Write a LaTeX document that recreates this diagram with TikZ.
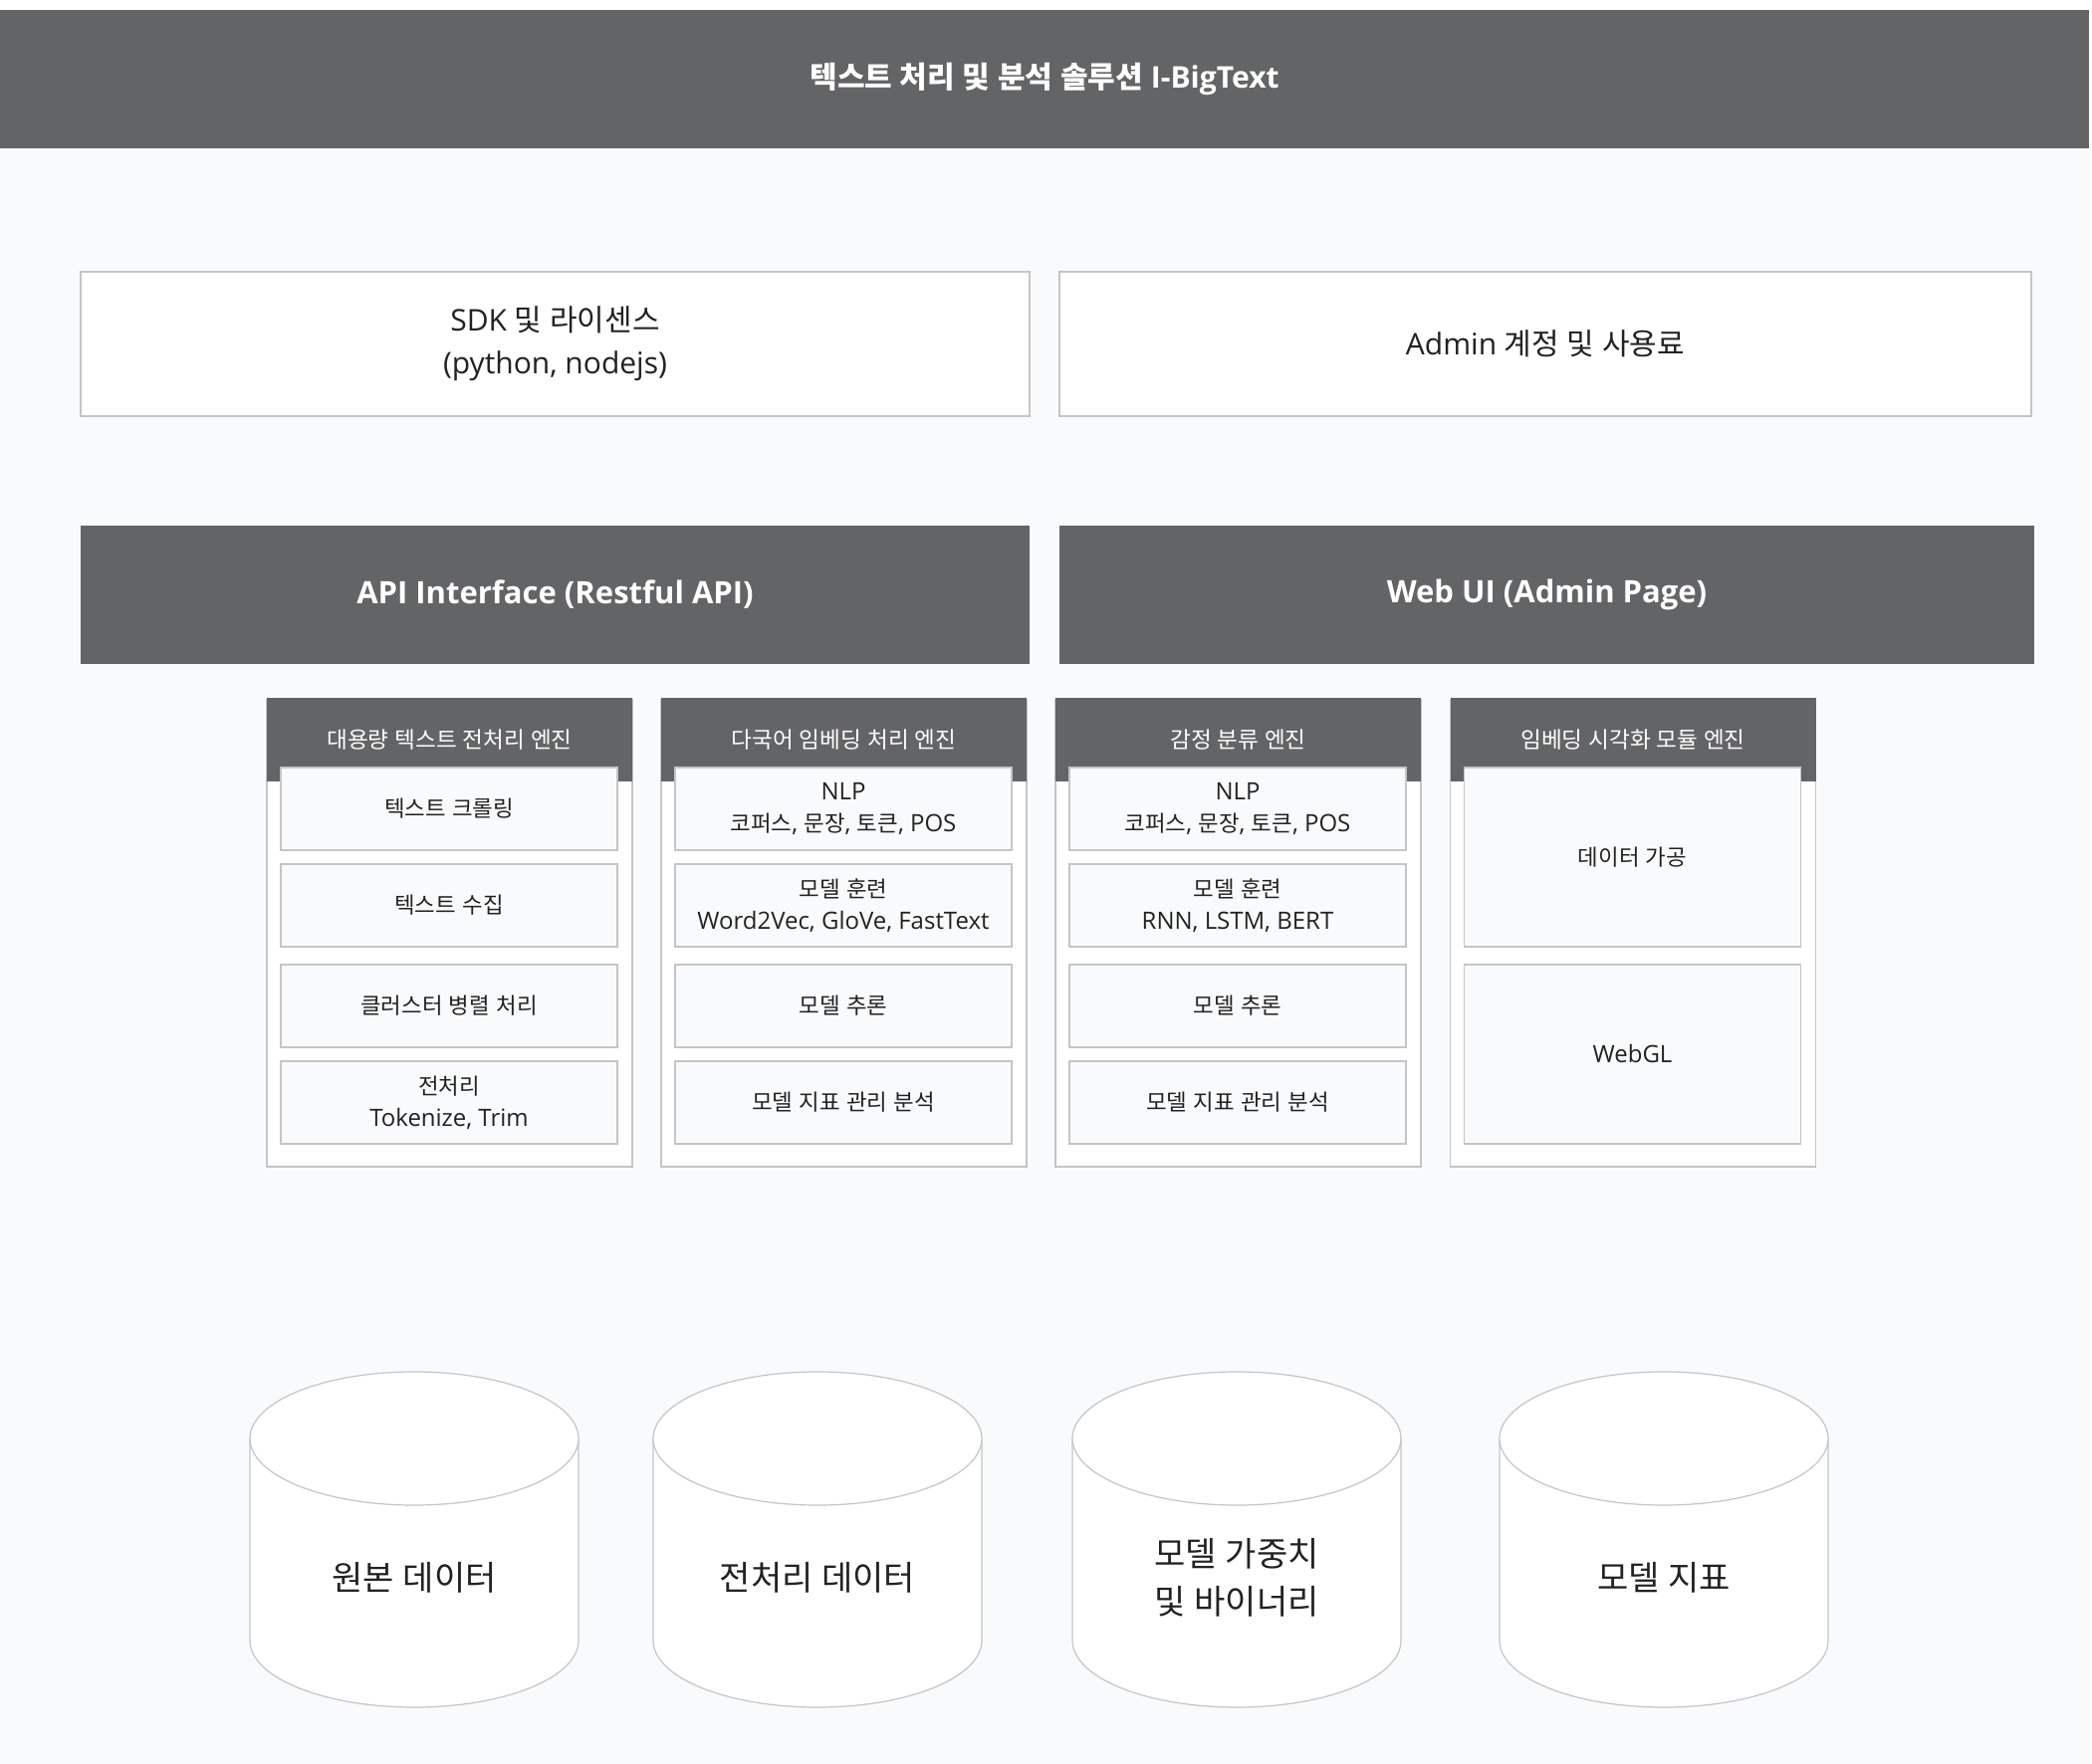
\documentclass[tikz,border=0pt]{standalone}
\usepackage{fontspec}
\setmainfont{Open Sans}
\newfontfamily\krfont{Noto Sans CJK KR}
\newfontfamily\widelatin{Open Sans}[Scale=1.07]
\newcommand\latinfam{\rmfamily}
% hangul syllables switch to the korean face
\XeTeXinterchartokenstate=1
\newXeTeXintercharclass\hangulclass
\newcount\hcount
\hcount="AC00
\loop\XeTeXcharclass\hcount=\hangulclass\ifnum\hcount<"D7A3 \advance\hcount by 1 \repeat
\XeTeXinterchartoks 0 \hangulclass={\krfont}
\XeTeXinterchartoks 4095 \hangulclass={\krfont}
\XeTeXinterchartoks \hangulclass 0={\latinfam}
\XeTeXinterchartoks \hangulclass 4095={\latinfam}
\usepackage{tikz}
\definecolor{bargray}{HTML}{636466}
\definecolor{pagebg}{HTML}{F9FAFC}
\definecolor{linegray}{HTML}{C4C5C7}
\definecolor{txt}{HTML}{222222}
\tikzset{
	bar/.style={fill=bargray, text=white, inner sep=0pt, outer sep=0pt, align=center},
	box/.style={draw=linegray, line width=0.7pt, fill=white, text=txt, inner sep=0pt, outer sep=0pt, align=center},
	toptext/.style={font=\fontsize{15}{21.5}\selectfont},
	bigbar/.style={bar, font=\bfseries\fontsize{15.5}{18}\selectfont},
	panel/.style={box, minimum width=183.5pt, minimum height=234.5pt},
	enghead/.style={bar, minimum width=183.5pt, minimum height=42pt, font=\fontsize{11.3}{14}\selectfont},
	item/.style={box, fill=pagebg, minimum width=169pt, minimum height=41.5pt, font=\fontsize{11.2}{16}\selectfont\let\latinfam\widelatin\widelatin},
	tallitem/.style={item, minimum height=90pt},
	cyl/.style={draw=linegray, line width=0.6pt, fill=white},
	dbtext/.style={text=txt, align=center, font=\fontsize{17}{24}\selectfont}
}
\begin{document}
\begin{tikzpicture}[x=0.5pt,y=-0.5pt]

	\useasboundingbox (0,0) rectangle (2101,1772);
	\fill[white] (0,0) rectangle (2101,1772);
	\fill[pagebg] (0,10) rectangle (2098,1772);

	% title and top row
	\node[bar, minimum width=1049pt, minimum height=69.5pt, font=\bfseries\fontsize{15}{18}\selectfont] (title) at (1049,79.5) {텍스트 처리 및 분석 솔루션 I-BigText};
	\node[box, toptext, minimum width=476.5pt, minimum height=72.5pt] (sdk) at (557.5,345.5) {SDK 및 라이센스\\(python, nodejs)};
	\node[box, toptext, minimum width=488pt, minimum height=72.5pt] (admin) at (1552,345.5) {Admin 계정 및 사용료};
	\node[bigbar, minimum width=476.5pt, minimum height=69.5pt] (api) at (557.5,597.5) {API Interface (Restful API)};
	\node[bigbar, minimum width=489.5pt, minimum height=69.5pt] (webui) at (1553.5,597.5) {Web UI (Admin Page)};

	% engines
	\node[panel] (prep) at (451.5,937.5) {};
	\node[enghead] (prephead) at (451.5,743) {대용량 텍스트 전처리 엔진};
	\node[item] (crawl) at (451,812.5) {텍스트 크롤링};
	\node[item] (collect) at (451,909.5) {텍스트 수집};
	\node[item] (cluster) at (451,1010.5) {클러스터 병렬 처리};
	\node[item] (trim) at (451,1107.5) {전처리\\Tokenize, Trim};

	\node[panel] (embed) at (847.5,937.5) {};
	\node[enghead] (embedhead) at (847.5,743) {다국어 임베딩 처리 엔진};
	\node[item] (enlp) at (847,812.5) {NLP\\코퍼스, 문장, 토큰, POS};
	\node[item] (etrain) at (847,909.5) {모델 훈련\\Word2Vec, GloVe, FastText};
	\node[item] (einfer) at (847,1010.5) {모델 추론};
	\node[item] (emetric) at (847,1107.5) {모델 지표 관리 분석};

	\node[panel] (senti) at (1243.5,937.5) {};
	\node[enghead] (sentihead) at (1243.5,743) {감정 분류 엔진};
	\node[item] (snlp) at (1243,812.5) {NLP\\코퍼스, 문장, 토큰, POS};
	\node[item] (strain) at (1243,909.5) {모델 훈련\\RNN, LSTM, BERT};
	\node[item] (sinfer) at (1243,1010.5) {모델 추론};
	\node[item] (smetric) at (1243,1107.5) {모델 지표 관리 분석};

	\node[panel] (vis) at (1640,937.5) {};
	\node[enghead] (vishead) at (1640,743) {임베딩 시각화 모듈 엔진};
	\node[tallitem] (proc) at (1639.5,861) {데이터 가공};
	\node[tallitem] (webgl) at (1639.5,1059) {WebGL};

	% storage
	\coordinate (s1) at (416,1445);
	\coordinate (s2) at (821,1445);
	\coordinate (s3) at (1242,1445);
	\coordinate (s4) at (1671,1445);
	\draw[cyl] (251,1445) -- (251,1648) arc[start angle=180, end angle=360, x radius=82.5pt, y radius=33.5pt] -- (581,1445);
	\draw[cyl] (s1) ellipse[x radius=82.5pt, y radius=33.5pt];
	\draw[cyl] (656,1445) -- (656,1648) arc[start angle=180, end angle=360, x radius=82.5pt, y radius=33.5pt] -- (986,1445);
	\draw[cyl] (s2) ellipse[x radius=82.5pt, y radius=33.5pt];
	\draw[cyl] (1077,1445) -- (1077,1648) arc[start angle=180, end angle=360, x radius=82.5pt, y radius=33.5pt] -- (1407,1445);
	\draw[cyl] (s3) ellipse[x radius=82.5pt, y radius=33.5pt];
	\draw[cyl] (1506,1445) -- (1506,1648) arc[start angle=180, end angle=360, x radius=82.5pt, y radius=33.5pt] -- (1836,1445);
	\draw[cyl] (s4) ellipse[x radius=82.5pt, y radius=33.5pt];
	\node[dbtext] (raw) at (416,1585) {원본 데이터};
	\node[dbtext] (clean) at (821,1585) {전처리 데이터};
	\node[dbtext] (weights) at (1242,1585) {모델 가중치\\및 바이너리};
	\node[dbtext] (metrics) at (1671,1585) {모델 지표};

\end{tikzpicture}
\end{document}
